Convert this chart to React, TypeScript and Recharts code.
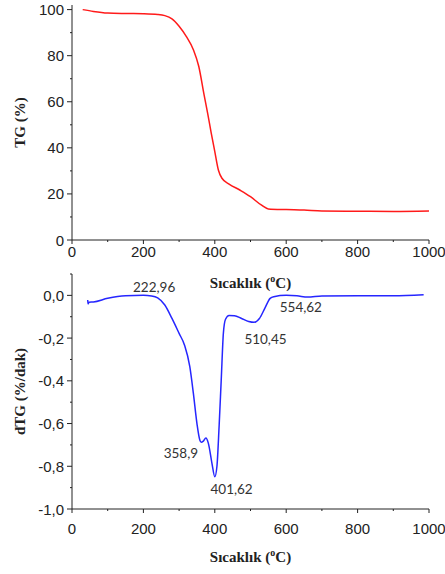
import React from "react";
import { LineChart, Line, XAxis, YAxis, ReferenceDot } from "recharts";

// ---- data ----
const tgTemps = [30, 60, 100, 150, 200, 240, 260, 280, 300, 320, 340, 355, 370, 380, 390, 400, 410, 420, 440, 470, 500, 530, 550, 600, 650, 700, 800, 900, 1000];
const tgValues = [100, 99.2, 98.5, 98.3, 98.2, 97.9, 97.4, 96.0, 92.8, 88.4, 82.6, 75.4, 63, 55, 46.4, 38.4, 30.4, 26.8, 24.3, 21.7, 18.8, 15.2, 13.5, 13.2, 13.0, 12.6, 12.5, 12.4, 12.6];

const dtgTemps = [44, 45, 48, 60, 100, 150, 200, 223, 240, 260, 280, 300, 315, 330, 340, 350, 358, 362, 368, 375, 382, 392, 400, 406, 412, 418, 424, 430, 440, 455, 475, 495, 510, 525, 540, 555, 565, 600, 630, 660, 700, 800, 900, 985];
const dtgValues = [-0.022, -0.04, -0.032, -0.031, -0.014, -0.002, 0, -0.003, -0.012, -0.045, -0.108, -0.178, -0.232, -0.334, -0.459, -0.6, -0.677, -0.688, -0.682, -0.668, -0.693, -0.786, -0.849, -0.8, -0.615, -0.396, -0.178, -0.112, -0.094, -0.095, -0.108, -0.122, -0.126, -0.108, -0.061, -0.014, -0.006, 0, -0.002, -0.008, -0.003, -0.002, -0.002, 0.003];

const xMajorTicks = [0, 200, 400, 600, 800, 1000];
const xMinorTicks = [100, 300, 500, 700, 900];
const tgMajorTicks = [0, 20, 40, 60, 80, 100];
const tgMinorTicks = [10, 30, 50, 70, 90];
const dtgMajorTicks = [-1, -0.8, -0.6, -0.4, -0.2, 0];
const dtgMinorTicks = [-0.9, -0.7, -0.5, -0.3, -0.1, 0.1];

const peakLabels = [
  { t: 230, v: 0.04, text: "222,96" },
  { t: 641, v: -0.055, text: "554,62" },
  { t: 542, v: -0.204, text: "510,45" },
  { t: 305, v: -0.738, text: "358,9" },
  { t: 447, v: -0.906, text: "401,62" },
];

const tgData = tgTemps.map((t, i) => ({ t, tg: tgValues[i] }));
const dtgData = dtgTemps.map((t, i) => ({ t, dtg: dtgValues[i] }));

const sortNum = (a: number[]) => [...a].sort((p, q) => p - q);
const isIn = (arr: number[], v: number) => arr.some((a) => Math.abs(a - v) < 1e-6);

const AXIS = "#222";
const TICK_FONT = "'Liberation Sans', Arial, sans-serif";
const TITLE_FONT = "'Liberation Serif', 'Times New Roman', serif";
const TICK_SIZE = 15;

const makeXTick = (gap: number) => (props: any) => {
  const { x, y, payload } = props;
  const major = isIn(xMajorTicks, payload.value);
  return (
    <g>
      <line x1={x} x2={x} y1={y} y2={y + (major ? 4 : 2)} stroke={AXIS} strokeWidth={1} />
      {major && (
        <text x={x} y={y + gap} textAnchor="middle" dominantBaseline="central" fontSize={TICK_SIZE} fontFamily={TICK_FONT} fill="#222">
          {payload.value}
        </text>
      )}
    </g>
  );
};

const makeYTick = (majors: number[], fmt: (v: number) => string) => (props: any) => {
  const { x, y, payload } = props;
  const major = isIn(majors, payload.value);
  return (
    <g>
      <line x1={x} x2={x - (major ? 5 : 2)} y1={y} y2={y} stroke={AXIS} strokeWidth={1} />
      {major && (
        <text x={x - 8} y={y} textAnchor="end" dominantBaseline="central" fontSize={TICK_SIZE} fontFamily={TICK_FONT} fill="#222">
          {fmt(payload.value)}
        </text>
      )}
    </g>
  );
};

const makeXTitle = (offset: number) => (props: any) => {
  const vb = props.viewBox || {};
  const cx = vb.x + vb.width / 2;
  const cy = vb.y + offset;
  return (
    <text x={cx} y={cy} textAnchor="middle" dominantBaseline="central" fontSize={15} fontWeight="bold" fontFamily={TITLE_FONT} fill="#222">
      <tspan>Sıcaklık (</tspan>
      <tspan fontSize={10} dy={-5}>o</tspan>
      <tspan dy={5}>C)</tspan>
    </text>
  );
};

const makeYTitle = (text: string) => (props: any) => {
  const vb = props.viewBox || {};
  const cx = vb.x + 20;
  const cy = vb.y + vb.height / 2;
  return (
    <text x={cx} y={cy} transform={`rotate(-90, ${cx}, ${cy})`} textAnchor="middle" dominantBaseline="central" fontSize={15} fontWeight="bold" fontFamily={TITLE_FONT} fill="#222">
      {text}
    </text>
  );
};

const fmtInt = (v: number) => String(Math.round(v));
const fmtComma = (v: number) => (Math.abs(v) < 1e-9 ? 0 : v).toFixed(1).replace(".", ",");

export default function App() {
  return (
    <div style={{ position: "absolute", left: 0, top: 0, width: 445, height: 574, background: "#fff" }}>
      <div style={{ position: "absolute", left: 0, top: 0 }}>
        <LineChart width={445} height={300} data={tgData} margin={{ top: 5, right: 16, bottom: 0, left: 0 }}>
          <XAxis
            type="number"
            dataKey="t"
            domain={[0, 1000]}
            ticks={sortNum([...xMajorTicks, ...xMinorTicks])}
            interval={0}
            tickSize={0}
            tickMargin={0}
            tickLine={false}
            axisLine={{ stroke: AXIS }}
            tick={makeXTick(11)}
            height={60}
            label={{ content: makeXTitle(43) }}
          />
          <YAxis
            type="number"
            domain={[0, 102]}
            ticks={sortNum([...tgMajorTicks, ...tgMinorTicks])}
            interval={0}
            tickSize={0}
            tickMargin={0}
            tickLine={false}
            axisLine={{ stroke: AXIS }}
            tick={makeYTick(tgMajorTicks, fmtInt)}
            width={72}
            label={{ content: makeYTitle("TG (%)") }}
          />
          <Line type="monotone" dataKey="tg" stroke="#ff1a1a" strokeWidth={1.5} dot={false} activeDot={false} isAnimationActive={false} />
        </LineChart>
      </div>
      <div style={{ position: "absolute", left: 0, top: 262 }}>
        <LineChart width={445} height={312} data={dtgData} margin={{ top: 12, right: 16, bottom: 0, left: 0 }}>
          <XAxis
            type="number"
            dataKey="t"
            domain={[0, 1000]}
            ticks={sortNum([...xMajorTicks, ...xMinorTicks])}
            interval={0}
            tickSize={0}
            tickMargin={0}
            tickLine={false}
            axisLine={{ stroke: AXIS }}
            tick={makeXTick(19)}
            height={65}
            label={{ content: makeXTitle(48) }}
          />
          <YAxis
            type="number"
            domain={[-1, 0.1]}
            ticks={sortNum([...dtgMajorTicks, ...dtgMinorTicks])}
            interval={0}
            tickSize={0}
            tickMargin={0}
            tickLine={false}
            axisLine={{ stroke: AXIS }}
            tick={makeYTick(dtgMajorTicks, fmtComma)}
            width={72}
            label={{ content: makeYTitle("dTG (%/dak)") }}
          />
          <Line type="monotone" dataKey="dtg" stroke="#2626ff" strokeWidth={1.5} dot={false} activeDot={false} isAnimationActive={false} />
          {peakLabels.map((p) => (
            <ReferenceDot
              key={p.text}
              x={p.t}
              y={p.v}
              r={0}
              fill="none"
              stroke="none"
              label={{ value: p.text, position: "center", fontSize: 13.5, fontFamily: "Lato, 'Liberation Sans', sans-serif", fill: "#333" }}
            />
          ))}
        </LineChart>
      </div>
    </div>
  );
}
